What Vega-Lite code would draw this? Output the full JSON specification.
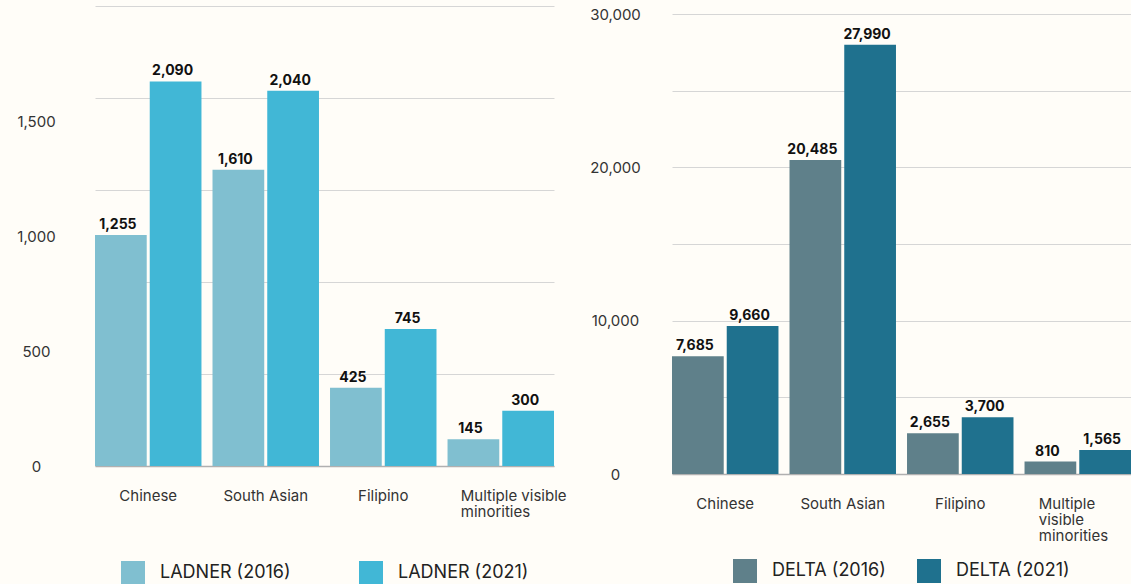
{
  "$schema": "https://vega.github.io/schema/vega-lite/v6.json",
  "background": "#fffdf8",
  "padding": {"left": 16, "top": 6, "right": 0, "bottom": 0},
  "config": {
    "view": {"stroke": null},
    "font": "Inter",
    "legend": {"layout": {"bottom": {"anchor": "middle"}}}
  },
  "datasets": {
    "ladner": [
      {"group": "Chinese", "series": "LADNER (2016)", "value": 1255},
      {"group": "Chinese", "series": "LADNER (2021)", "value": 2090},
      {"group": "South Asian", "series": "LADNER (2016)", "value": 1610},
      {"group": "South Asian", "series": "LADNER (2021)", "value": 2040},
      {"group": "Filipino", "series": "LADNER (2016)", "value": 425},
      {"group": "Filipino", "series": "LADNER (2021)", "value": 745},
      {"group": "Multiple visible minorities", "series": "LADNER (2016)", "value": 145},
      {"group": "Multiple visible minorities", "series": "LADNER (2021)", "value": 300}
    ],
    "delta": [
      {"group": "Chinese", "series": "DELTA (2016)", "value": 7685},
      {"group": "Chinese", "series": "DELTA (2021)", "value": 9660},
      {"group": "South Asian", "series": "DELTA (2016)", "value": 20485},
      {"group": "South Asian", "series": "DELTA (2021)", "value": 27990},
      {"group": "Filipino", "series": "DELTA (2016)", "value": 2655},
      {"group": "Filipino", "series": "DELTA (2021)", "value": 3700},
      {"group": "Multiple visible minorities", "series": "DELTA (2016)", "value": 810},
      {"group": "Multiple visible minorities", "series": "DELTA (2021)", "value": 1565}
    ]
  },
  "spacing": 22,
  "resolve": {"scale": {"color": "independent", "y": "independent", "x": "independent", "xOffset": "independent"}, "legend": {"color": "independent"}, "axis": {"y": "independent", "x": "independent"}},
  "hconcat": [
    {
      "width": 459,
      "height": 460,
      "data": {"name": "ladner"},
      "encoding": {
        "x": {
          "field": "group", "type": "nominal", "title": null,
          "sort": ["Chinese", "South Asian", "Filipino", "Multiple visible minorities"],
          "scale": {"paddingInner": 0.094, "paddingOuter": 0},
          "axis": {
            "labelAngle": 0, "ticks": false, "domainColor": "#b0b0b0", "domainWidth": 1.5,
            "labelPadding": 22, "labelFontSize": 15, "labelColor": "#333333", "labelBaseline": "top",
            "labelLineHeight": 16, "labelLimit": 300,
            "labelAlign": {"condition": {"test": "datum.value == 'Multiple visible minorities'", "value": "left"}, "value": "center"},
            "labelOffset": {"condition": {"test": "datum.value == 'Multiple visible minorities'", "value": -40}, "value": 0},
            "labelExpr": "datum.value == 'Multiple visible minorities' ? ['Multiple visible', 'minorities'] : datum.value"
          }
        },
        "xOffset": {"field": "series", "type": "nominal", "scale": {"paddingInner": 0.055, "paddingOuter": 0}},
        "y": {
          "field": "value", "type": "quantitative", "title": null,
          "scale": {"domain": [0, 2500], "nice": false},
          "axis": {
            "values": [0, 500, 625, 1000, 1250, 1500, 1875, 2000, 2500],
            "domain": false, "ticks": false, "labelOverlap": false, "labelFlush": false,
            "labelAlign": "center", "labelPadding": 59, "labelColor": "#333333",
            "labelFontSize": {"condition": {"test": "datum.value == 0 || datum.value == 625 || datum.value == 1250 || datum.value == 1875", "value": 15}, "value": 0},
            "gridColor": "#d6d6d6", "gridWidth": 1,
            "gridOpacity": {"condition": {"test": "datum.value % 500 == 0", "value": 1}, "value": 0},
            "labelExpr": "(datum.value == 0 || datum.value == 625 || datum.value == 1250 || datum.value == 1875) ? format(datum.value * 0.8, ',') : ''"
          }
        }
      },
      "layer": [
        {
          "mark": {"type": "bar"},
          "encoding": {
            "color": {
              "field": "series", "type": "nominal",
              "scale": {"range": ["#80bfd0", "#41b7d6"]},
              "legend": {
                "orient": "bottom", "direction": "horizontal", "title": null,
                "symbolType": "square", "symbolSize": 576, "symbolStrokeWidth": 0, "symbolOpacity": 1,
                "labelFontSize": 18, "labelColor": "#222222", "labelOffset": 15, "columnPadding": 68, "offset": 42
              }
            }
          }
        },
        {
          "mark": {"type": "text", "baseline": "bottom", "dy": -3, "dx": -3, "fontWeight": "bold", "fontSize": 14, "color": "#111111"},
          "encoding": {"text": {"field": "value", "type": "quantitative", "format": ","}}
        }
      ]
    },
    {
      "width": 459,
      "height": 468,
      "data": {"name": "delta"},
      "encoding": {
        "x": {
          "field": "group", "type": "nominal", "title": null,
          "sort": ["Chinese", "South Asian", "Filipino", "Multiple visible minorities"],
          "scale": {"paddingInner": 0.094, "paddingOuter": 0},
          "axis": {
            "labelAngle": 0, "ticks": false, "domainColor": "#b0b0b0", "domainWidth": 1.5,
            "labelPadding": 22, "labelFontSize": 15, "labelColor": "#333333", "labelBaseline": "top",
            "labelLineHeight": 16, "labelLimit": 300,
            "labelAlign": {"condition": {"test": "datum.value == 'Multiple visible minorities'", "value": "left"}, "value": "center"},
            "labelOffset": {"condition": {"test": "datum.value == 'Multiple visible minorities'", "value": -39}, "value": 0},
            "labelExpr": "datum.value == 'Multiple visible minorities' ? ['Multiple', 'visible', 'minorities'] : datum.value"
          }
        },
        "xOffset": {"field": "series", "type": "nominal", "scale": {"paddingInner": 0.055, "paddingOuter": 0}},
        "y": {
          "field": "value", "type": "quantitative", "title": null,
          "scale": {"domain": [0, 30522], "nice": false},
          "axis": {
            "values": [0, 5000, 10000, 15000, 20000, 25000, 30000],
            "domain": false, "ticks": false, "labelOverlap": false, "labelFlush": false,
            "labelAlign": "center", "labelPadding": 57, "labelColor": "#333333",
            "labelFontSize": {"condition": {"test": "datum.value % 10000 == 0", "value": 15}, "value": 0},
            "gridColor": "#d6d6d6", "gridWidth": 1,
            "labelExpr": "datum.value % 10000 == 0 ? format(datum.value, ',') : ''"
          }
        }
      },
      "layer": [
        {
          "mark": {"type": "bar"},
          "encoding": {
            "color": {
              "field": "series", "type": "nominal",
              "scale": {"range": ["#5f808a", "#1f718e"]},
              "legend": {
                "orient": "bottom", "direction": "horizontal", "title": null,
                "symbolType": "square", "symbolSize": 576, "symbolStrokeWidth": 0, "symbolOpacity": 1,
                "labelFontSize": 18, "labelColor": "#222222", "labelOffset": 15, "columnPadding": 31, "offset": 16
              }
            }
          }
        },
        {
          "mark": {"type": "text", "baseline": "bottom", "dy": -3, "dx": -3, "fontWeight": "bold", "fontSize": 14, "color": "#111111"},
          "encoding": {"text": {"field": "value", "type": "quantitative", "format": ","}}
        }
      ]
    }
  ]
}
